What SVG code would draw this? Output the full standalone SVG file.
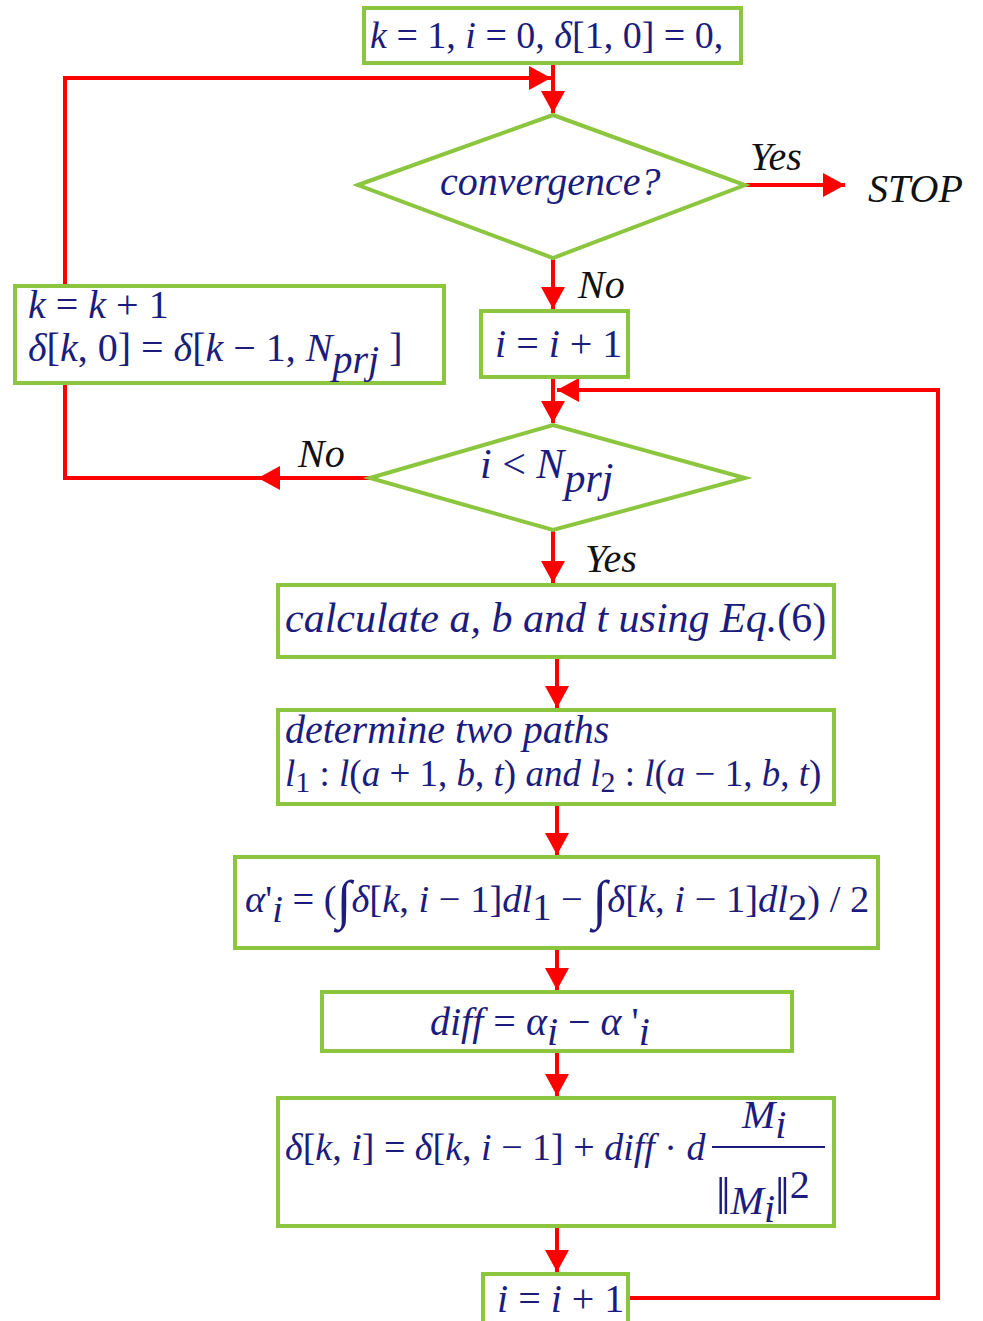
<svg xmlns="http://www.w3.org/2000/svg" width="983" height="1321" viewBox="0 0 983 1321">
<style>
.box{fill:#fff;stroke:#8cc63f;stroke-width:4}
.c{fill:none;stroke:#f00;stroke-width:4}
.t{font-family:"Liberation Serif",serif;font-size:40px;fill:#1c1c7c}
.i{font-style:italic}
.s{font-size:30px}
.lbl{font-family:"Liberation Serif",serif;font-size:40px;font-style:italic;fill:#111}
</style>
<defs>
<marker id="ah" markerWidth="24" markerHeight="24" refX="22" refY="12" orient="auto" markerUnits="userSpaceOnUse"><path d="M0,0 L22,12 L0,24 Z" fill="#f00"/></marker>
</defs>
<rect width="983" height="1321" fill="#fff"/>
<g id="connectors">
<path class="c" d="M65,286 V78 H551" marker-end="url(#ah)"/>
<path class="c" d="M553,63 V113" marker-end="url(#ah)"/>
<path class="c" d="M745,185 H845" marker-end="url(#ah)"/>
<path class="c" d="M553,258 V309" marker-end="url(#ah)"/>
<path class="c" d="M553,377 V423" marker-end="url(#ah)"/>
<path class="c" d="M628,1298 H938 V390 H557" marker-end="url(#ah)"/>
<path class="c" d="M370,478 H65 V383"/>
<path class="c" d="M370,478 H258" marker-end="url(#ah)"/>
<path class="c" d="M553,530 V583" marker-end="url(#ah)"/>
<path class="c" d="M557,657 V708" marker-end="url(#ah)"/>
<path class="c" d="M557,804 V855" marker-end="url(#ah)"/>
<path class="c" d="M557,948 V990" marker-end="url(#ah)"/>
<path class="c" d="M557,1051 V1096" marker-end="url(#ah)"/>
<path class="c" d="M557,1226 V1272" marker-end="url(#ah)"/>
<text class="lbl" x="750" y="170">Yes</text>
<text class="lbl" x="578" y="298">No</text>
<text class="lbl" x="298" y="467">No</text>
<text class="lbl" x="585" y="572">Yes</text>
</g>
<g id="init">
<rect class="box" x="364" y="8" width="377" height="55"/>
<text class="t" x="370" y="48" style="font-size:38px"><tspan class="i">k</tspan> = 1, <tspan class="i">i</tspan> = 0, <tspan class="i">δ</tspan>[1, 0] = 0,</text>
</g>
<g id="convergence">
<polygon class="box" points="358,185 553,115 745,185 553,258"/>
<text class="t i" x="440" y="195">convergence?</text>
</g>
<g id="stop">
<text class="lbl" x="868" y="202">STOP</text>
</g>
<g id="inc1">
<rect class="box" x="481" y="311" width="147" height="66"/>
<text class="t" x="495" y="357"><tspan class="i">i</tspan> = <tspan class="i">i</tspan> + 1</text>
</g>
<g id="knext">
<rect class="box" x="15" y="286" width="429" height="97"/>
<text class="t" x="28" y="318"><tspan class="i">k</tspan> = <tspan class="i">k</tspan> + 1</text>
<text class="t" x="28" y="361"><tspan class="i">δ</tspan>[<tspan class="i">k</tspan>, 0] = <tspan class="i">δ</tspan>[<tspan class="i">k</tspan> − 1, <tspan class="i">N</tspan><tspan class="i" dy="12">prj</tspan><tspan dy="-12"> ]</tspan></text>
</g>
<g id="check">
<polygon class="box" points="370,478 553,425 745,478 553,530"/>
<text class="t" x="480" y="478" style="font-size:42px"><tspan class="i">i</tspan> &lt; <tspan class="i">N</tspan><tspan class="i" dy="14">prj</tspan></text>
</g>
<g id="calc">
<rect class="box" x="278" y="585" width="556" height="72"/>
<text class="t" x="285" y="632" style="font-size:42px"><tspan class="i">calculate a, b and t using Eq.</tspan>(6)</text>
</g>
<g id="paths">
<rect class="box" x="278" y="710" width="556" height="94"/>
<text class="t i" x="285" y="743" style="font-size:40px">determine two paths</text>
<text class="t" x="285" y="786" style="font-size:37px"><tspan class="i">l</tspan><tspan class="s" dy="6">1</tspan><tspan dy="-6"> : </tspan><tspan class="i">l</tspan>(<tspan class="i">a</tspan> + 1, <tspan class="i">b</tspan>, <tspan class="i">t</tspan>) <tspan class="i">and l</tspan><tspan class="s" dy="6">2</tspan><tspan dy="-6"> : </tspan><tspan class="i">l</tspan>(<tspan class="i">a</tspan> − 1, <tspan class="i">b</tspan>, <tspan class="i">t</tspan>)</text>
</g>
<g id="alpha">
<rect class="box" x="235" y="857" width="643" height="91"/>
<text class="t" x="245" y="912" style="font-size:38.5px"><tspan class="i">α</tspan>'<tspan class="i" dy="10">i</tspan><tspan dy="-10"> = (</tspan><tspan font-size="54" dy="6">∫</tspan><tspan class="i" dy="-6">δ</tspan>[<tspan class="i">k</tspan>, <tspan class="i">i</tspan> − 1]<tspan class="i">dl</tspan><tspan dy="8">1</tspan><tspan dy="-8"> − </tspan><tspan font-size="54" dy="6">∫</tspan><tspan class="i" dy="-6">δ</tspan>[<tspan class="i">k</tspan>, <tspan class="i">i</tspan> − 1]<tspan class="i">dl</tspan><tspan dy="8">2</tspan><tspan dy="-8">) / 2</tspan></text>
</g>
<g id="diff">
<rect class="box" x="322" y="992" width="470" height="59"/>
<text class="t" x="430" y="1035"><tspan class="i">diff</tspan> = <tspan class="i">α</tspan><tspan class="i" dy="10">i</tspan><tspan dy="-10"> − </tspan><tspan class="i">α</tspan> '<tspan class="i" dy="10">i</tspan></text>
</g>
<g id="update">
<rect class="box" x="278" y="1098" width="556" height="128"/>
<text class="t" x="285" y="1160" style="font-size:38px"><tspan class="i">δ</tspan>[<tspan class="i">k</tspan>, <tspan class="i">i</tspan>] = <tspan class="i">δ</tspan>[<tspan class="i">k</tspan>, <tspan class="i">i</tspan> − 1] + <tspan class="i">diff</tspan> · <tspan class="i">d</tspan></text>
<line x1="712" y1="1147" x2="825" y2="1147" stroke="#1c1c7c" stroke-width="2"/>
<text class="t" x="742" y="1128"><tspan class="i">M</tspan><tspan class="i" dy="10">i</tspan></text>
<text class="t" x="716" y="1214"><tspan font-size="52">‖</tspan><tspan class="i">M</tspan><tspan class="i" dy="8">i</tspan><tspan dy="-8" font-size="52">‖</tspan><tspan dy="-16">2</tspan></text>
</g>
<g id="inc2">
<rect class="box" x="483" y="1274" width="145" height="50"/>
<text class="t" x="497" y="1312"><tspan class="i">i</tspan> = <tspan class="i">i</tspan> + 1</text>
</g>
</svg>
